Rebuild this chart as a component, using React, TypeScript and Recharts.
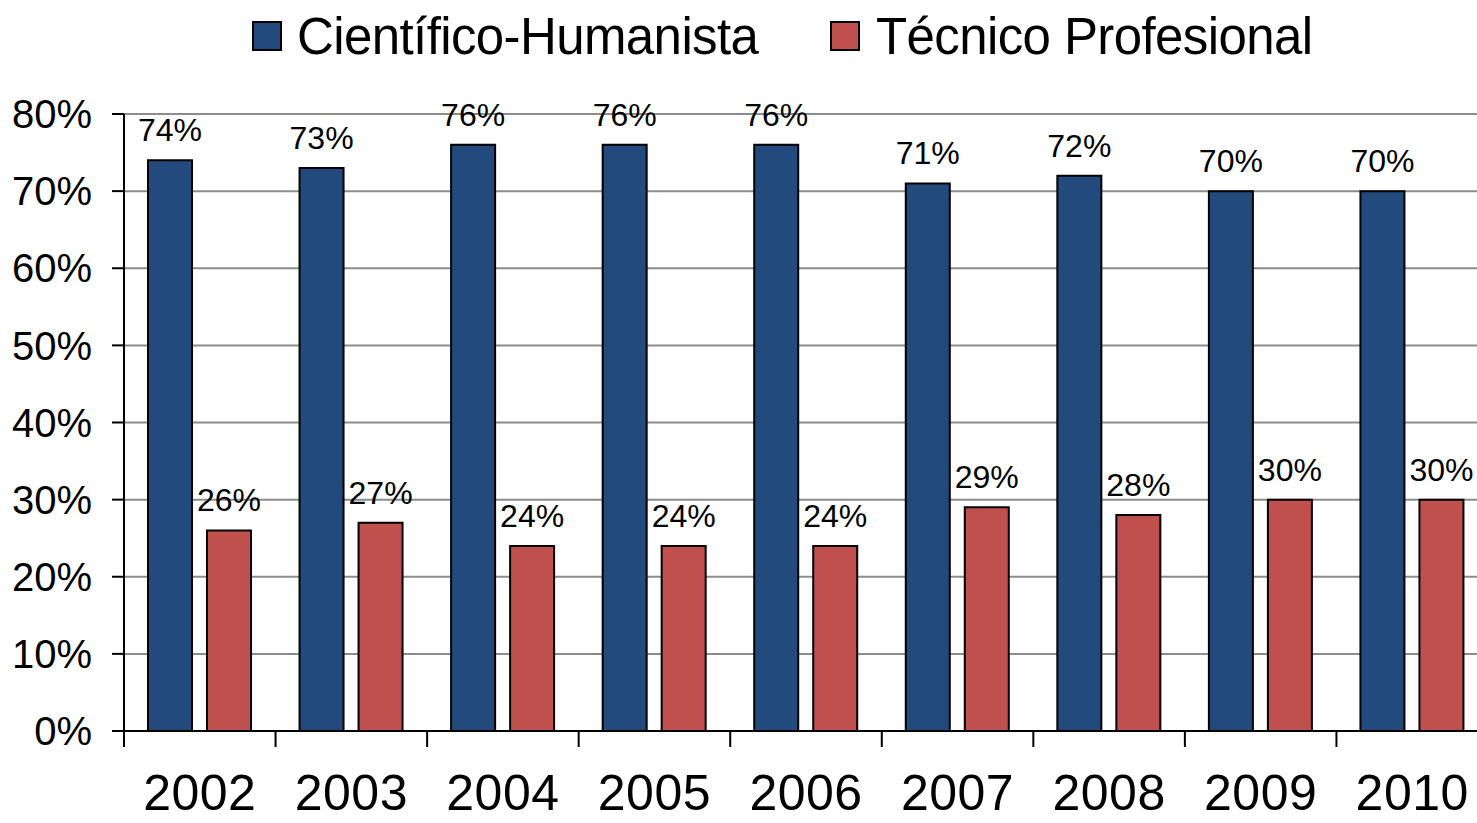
import React from 'react';
import { BarChart, Bar, XAxis, YAxis, CartesianGrid, LabelList } from 'recharts';

const years = ['2002', '2003', '2004', '2005', '2006', '2007', '2008', '2009', '2010'];
const cientificoHumanista = [74, 73, 76, 76, 76, 71, 72, 70, 70];
const tecnicoProfesional = [26, 27, 24, 24, 24, 29, 28, 30, 30];
const yTicks = [0, 10, 20, 30, 40, 50, 60, 70, 80];
const seriesNames = ['Científico-Humanista', 'Técnico Profesional'];
const seriesColors = ['#234A7C', '#C0504D'];

const data = years.map((y, i) => ({
  year: y,
  ch: cientificoHumanista[i],
  tp: tecnicoProfesional[i],
}));

const FONT = '"Liberation Sans", Arial, Helvetica, sans-serif';

const XTick = (props: any) => {
  const { x, y, payload } = props;
  const off = payload && typeof payload.offset === 'number' ? payload.offset : 76;
  return (
    <g>
      <line x1={x - off} y1={y - 8} x2={x - off} y2={y + 8} stroke="#000" strokeWidth={2} />
      <text
        x={x}
        y={y + 71}
        textAnchor="middle"
        fontFamily={FONT}
        fontSize={50}
        fill="#000"
        letterSpacing={0.5}
      >
        {payload.value}
      </text>
    </g>
  );
};

const legendItemStyle: React.CSSProperties = {
  position: 'absolute',
  top: 0,
  display: 'flex',
  alignItems: 'center',
  height: 72,
  fontFamily: FONT,
  fontSize: 51,
  letterSpacing: -0.6,
  color: '#000',
  whiteSpace: 'nowrap',
};

export default function App() {
  return (
    <div
      style={{
        position: 'absolute',
        left: 0,
        top: 0,
        width: 1477,
        height: 823,
        overflow: 'hidden',
        background: '#fff',
      }}
    >
      <div style={{ ...legendItemStyle, left: 252 }}>
        <span
          style={{
            display: 'inline-block',
            width: 26,
            height: 26,
            background: seriesColors[0],
            border: '2px solid #000',
            marginRight: 15,
          }}
        />
        <span>{seriesNames[0]}</span>
      </div>
      <div style={{ ...legendItemStyle, left: 830 }}>
        <span
          style={{
            display: 'inline-block',
            width: 26,
            height: 26,
            background: seriesColors[1],
            border: '2px solid #000',
            marginRight: 16,
          }}
        />
        <span>{seriesNames[1]}</span>
      </div>
      <div style={{ position: 'absolute', left: 0, top: 0 }}>
        <BarChart
          width={1488}
          height={823}
          data={data}
          margin={{ top: 114, right: 0, left: 0, bottom: 0 }}
          barGap={15}
          barSize={44}
        >
          <CartesianGrid vertical={false} stroke="#8C8C8C" strokeWidth={2} />
          <XAxis
            dataKey="year"
            height={92}
            axisLine={{ stroke: '#000', strokeWidth: 2 }}
            tickLine={false}
            tick={<XTick />}
            interval={0}
          />
          <YAxis
            width={124}
            domain={[0, 80]}
            ticks={yTicks}
            tickFormatter={(v: number) => `${v}%`}
            axisLine={{ stroke: '#000', strokeWidth: 2 }}
            tickLine={{ stroke: '#000', strokeWidth: 2 }}
            tickSize={12}
            tickMargin={20}
            tick={{ fontFamily: FONT, fontSize: 40, fill: '#000' }}
          />
          <Bar dataKey="ch" name={seriesNames[0]} fill={seriesColors[0]} stroke="#000" strokeWidth={2} isAnimationActive={false}>
            <LabelList
              dataKey="ch"
              position="top"
              offset={19}
              formatter={(v: any) => `${v}%`}
              style={{ fontFamily: FONT, fontSize: 32, fill: '#000' }}
            />
          </Bar>
          <Bar dataKey="tp" name={seriesNames[1]} fill={seriesColors[1]} stroke="#000" strokeWidth={2} isAnimationActive={false}>
            <LabelList
              dataKey="tp"
              position="top"
              offset={19}
              formatter={(v: any) => `${v}%`}
              style={{ fontFamily: FONT, fontSize: 32, fill: '#000' }}
            />
          </Bar>
        </BarChart>
      </div>
    </div>
  );
}
